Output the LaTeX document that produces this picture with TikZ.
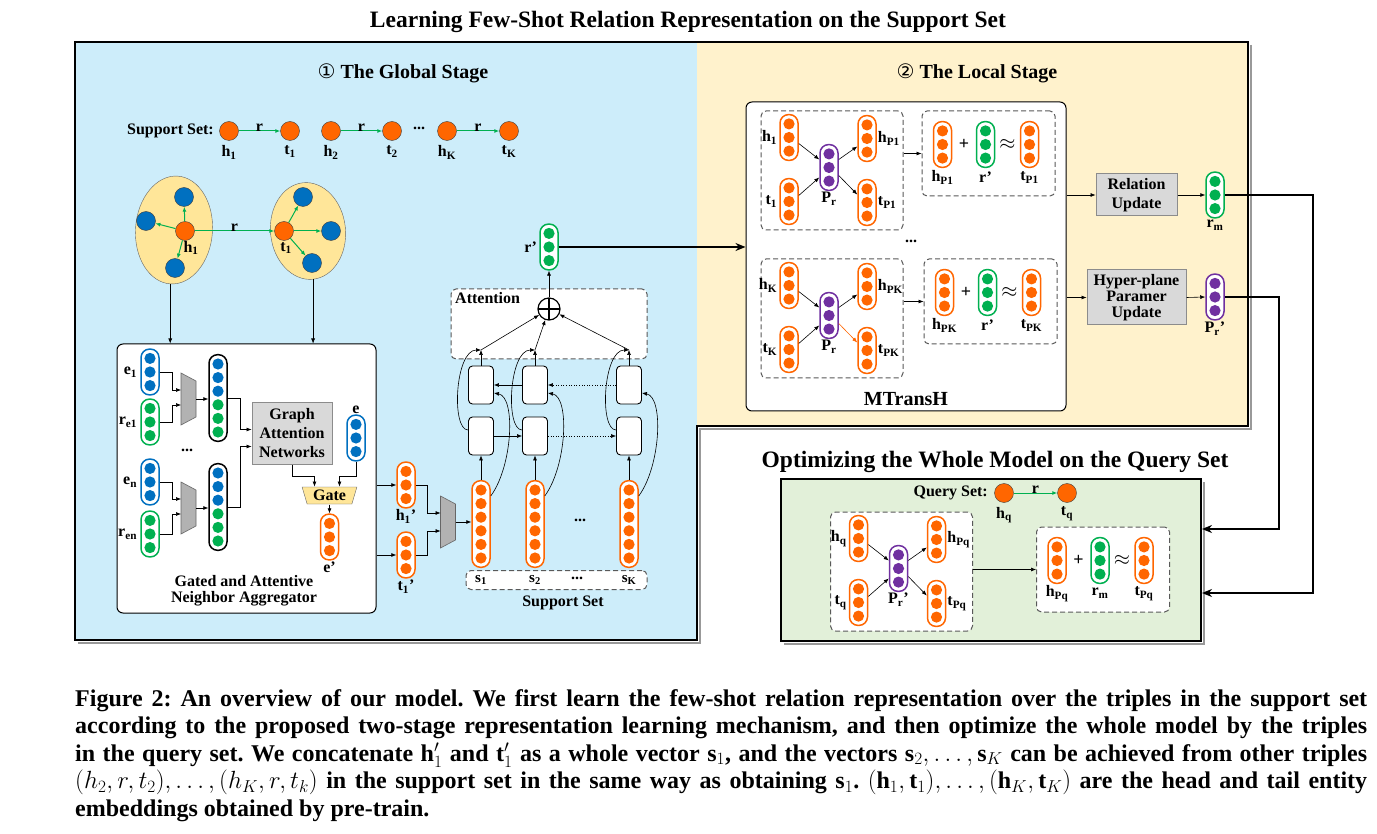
\documentclass[tikz,border=0pt]{standalone}
\usepackage{fontspec}
\setmainfont{Liberation Serif}
\newfontfamily\circfont{DejaVu Sans}
\usetikzlibrary{positioning,shapes.geometric,arrows.meta,calc}

\definecolor{myorange}{RGB}{255,102,0}
\definecolor{myblue}{RGB}{0,112,192}
\definecolor{mygreen}{RGB}{0,176,80}
\definecolor{mypurple}{RGB}{112,48,160}
\definecolor{skyback}{RGB}{205,237,250}
\definecolor{sandback}{RGB}{255,242,204}
\definecolor{leafback}{RGB}{226,240,217}
\definecolor{boxgray}{RGB}{217,217,217}
\definecolor{ellfill}{RGB}{255,230,153}

\newcommand{\fsz}[2]{\fontsize{#1}{#2}\selectfont\bfseries}
\newcommand{\subl}[2]{#1\textsubscript{#2}}

% embedding vector: name, x, y, colour, number of dots
\newcommand{\embvec}[5]{%
  \node[vecbox=#4, minimum height={#5*13.6+5}] (#1) at (#2,#3) {};
  \foreach \k in {1,...,#5}
    \fill[#4] ($(#1.center)+(0,{(\k-(#5+1)/2)*13.6})$) circle (5.6pt);
}
% concatenated entity + relation vector
\newcommand{\catvec}[3]{%
  \node[vecbox=black, minimum height=86.6] (#1) at (#2,#3) {};
  \foreach \k/\c in {1/myblue,2/myblue,3/myblue,4/mygreen,5/mygreen,6/mygreen}
    \fill[\c] ($(#1.center)+(0,{(\k-3.5)*13.6})$) circle (5.6pt);
}
% merging block
\newcommand{\mergeblock}[3]{%
  \coordinate (#1) at (#2,#3);
  \draw[merge] ($(#1)+(-7.5,-26)$) -- ($(#1)+(7.5,-18)$) -- ($(#1)+(7.5,18)$) -- ($(#1)+(-7.5,26)$) -- cycle;
}
% hyper-plane projection: prefix, x, y, h, t, P, hP, tP, colour of last arrow
\newcommand{\projset}[9]{%
  \node[dashbox, minimum width=142, minimum height=119] (#1box) at (#2,#3) {};
  \embvec{#1h}{#2-43}{#3-33}{myorange}{3}
  \embvec{#1t}{#2-43}{#3+31}{myorange}{3}
  \embvec{#1p}{#2-3}{#3-3}{mypurple}{3}
  \embvec{#1hp}{#2+35}{#3-32}{myorange}{3}
  \embvec{#1tp}{#2+35}{#3+32}{myorange}{3}
  \node[lbl, left=1pt of #1h] (#1hl) {#4};
  \node[lbl, left=1pt of #1t] (#1tl) {#5};
  \node[lbl, below=0pt of #1p] (#1pl) {#6};
  \node[lbl, right=0pt of #1hp] (#1hpl) {#7};
  \node[lbl, right=0pt of #1tp] (#1tpl) {#8};
  \draw[arr] ($(#1h.east)+(0,6)$) -- ($(#1p.west)+(0,-8)$);
  \draw[arr] ($(#1t.east)+(0,-6)$) -- ($(#1p.west)+(0,10)$);
  \draw[arr] ($(#1p.east)+(0,-8)$) -- ($(#1hp.west)+(0,8)$);
  \draw[arr, #9] ($(#1p.east)+(0,8)$) -- ($(#1tp.west)+(0,-8)$);
}
% translation check: prefix, x, y, hP, r, tP
\newcommand{\eqset}[6]{%
  \node[dashbox, minimum width=133, minimum height=85] (#1box) at (#2,#3) {};
  \embvec{#1h}{#2-46}{#3-9}{myorange}{3}
  \embvec{#1r}{#2-3}{#3-9}{mygreen}{3}
  \embvec{#1t}{#2+41}{#3-9}{myorange}{3}
  \node[font=\fsz{18}{18}] (#1plus) at (#2-24.5,#3-9) {+};
  \node[font=\fsz{20}{20}] (#1apx) at (#2+19,#3-9) {$\approx$};
  \node[lbl] (#1hl) at (#2-46,#3+24) {#4};
  \node[lbl] (#1rl) at (#2-3,#3+24) {#5};
  \node[lbl] (#1tl) at (#2+41,#3+24) {#6};
}

\begin{document}
\begin{tikzpicture}[x=1pt,y=-1pt,
  vecbox/.style={draw=#1, line width=1.5pt, fill=white, rounded corners=8.5pt, minimum width=18, inner sep=0},
  ent/.style={circle, draw=black!75, fill=myorange, minimum size=19, inner sep=0},
  nbr/.style={circle, draw=black!75, fill=myblue, minimum size=19, inner sep=0},
  lbl/.style={font=\fsz{16}{18}, inner sep=1pt},
  ttl/.style={font=\fsz{23.5}{28}, inner sep=0},
  arr/.style={-{Latex[length=5pt,width=4pt]}, line width=0.6pt},
  bigarr/.style={-{Stealth[length=10pt,width=8pt]}, line width=1.6pt},
  rel/.style={-{Latex[length=5pt,width=4pt]}, draw=mygreen, line width=1pt},
  graybox/.style={draw=black!45, fill=boxgray, line width=1pt, align=center, inner sep=0},
  dashbox/.style={draw=black!65, dash pattern=on 5pt off 3pt, line width=1pt, fill=white, rounded corners=5pt},
  lstm/.style={draw, line width=0.9pt, fill=white, rounded corners=4pt, minimum width=25, minimum height=38},
  merge/.style={draw=black!60, fill=black!30, line width=0.6pt},
  panel/.style={draw, line width=1pt, fill=white, rounded corners=6pt}]
\useasboundingbox (0,0) rectangle (1377,834);
\fill[white] (0,0) rectangle (1377,834);
% stage panels
\fill[skyback] (75,42) rectangle (697,640);
\fill[sandback] (697,42) rectangle (1248,426);
\draw[black!40, line width=2pt] (1251,45) -- (1251,429) -- (700,429) -- (700,643) -- (78,643);
\draw[line width=2pt] (75,42) -- (1248,42) -- (1248,426) -- (697,426) -- (697,640) -- (75,640) -- cycle;
\draw[black!40, line width=2pt] (1204,482) -- (1204,644) -- (784,644);
\node[draw, line width=2pt, fill=leafback, minimum width=420, minimum height=162, inner sep=0] (qpanel) at (991,560) {};

\node[ttl] (maintitle) at (688,22) {Learning Few-Shot Relation Representation on the Support Set};
\node[font=\fsz{20}{22}] (globaltitle) at (403,73) {{\circfont\mdseries ①} The Global Stage};
\node[font=\fsz{20}{22}] (localtitle) at (977,73) {{\circfont\mdseries ②} The Local Stage};
\node[ttl] (querytitle) at (995,462) {Optimizing the Whole Model on the Query Set};

% support set triples
\node[font=\fsz{16}{18}, anchor=east, inner sep=0] (suplabel) at (214,131) {Support Set:};
\foreach \n/\x/\t in {h1/229/\subl{h}{1}, t1/290/\subl{t}{1}, h2/331/\subl{h}{2}, t2/392/\subl{t}{2}, hK/447/\subl{h}{K}, tK/509/\subl{t}{K}}
  \node[ent, label={[lbl, label distance=4pt]below:\t}] (s\n) at (\x,131) {};
\node[lbl] (supdots) at (419,128) {...};
\draw[rel] (sh1) -- node[lbl, above=-2pt] (ra) {r} (st1);
\draw[rel] (sh2) -- node[lbl, above=-2pt] (rb) {r} (st2);
\draw[rel] (shK) -- node[lbl, above=-2pt] (rc) {r} (stK);

% neighbourhoods
\node[ellipse, draw=black!60, fill=ellfill, minimum width=77, minimum height=108, rotate=-4] (hood) at (174,230) {};
\node[ellipse, draw=black!60, fill=ellfill, minimum width=75, minimum height=97, rotate=6] (tood) at (308,231) {};
\node[ent] (hc) at (185,231) {};
\node[nbr] (hn1) at (184,197) {};
\node[nbr] (hn2) at (146,221) {};
\node[nbr] (hn3) at (175,268) {};
\node[ent] (tc) at (284,231) {};
\node[nbr] (tn1) at (303,197) {};
\node[nbr] (tn2) at (331,231) {};
\node[nbr] (tn3) at (312,263) {};
\foreach \n in {hn1,hn2,hn3} \draw[rel] (hc) -- (\n);
\foreach \n in {tn1,tn2,tn3} \draw[rel] (tc) -- (\n);
\draw[rel] (hc) -- node[lbl, above=-2pt] (rh) {r} (tc);
\node[lbl] (hcl) at (191,248) {\subl{h}{1}};
\node[lbl] (tcl) at (286,248) {\subl{t}{1}};

% gated and attentive neighbor aggregator
\node[panel, minimum width=259, minimum height=269] (agg) at (246.5,478.5) {};
\draw[arr] (hood.south) -- (hood.south |- agg.north);
\draw[arr] (tood.south) -- (tood.south |- agg.north);
\embvec{e1}{150}{372}{myblue}{3}
\embvec{re1}{150}{422}{mygreen}{3}
\embvec{en}{150}{482}{myblue}{3}
\embvec{ren}{150}{534}{mygreen}{3}
\node[lbl, left=2pt of e1] (e1l) {\subl{e}{1}};
\node[lbl, left=2pt of re1] (re1l) {\subl{r}{e1}};
\node[lbl, left=2pt of en] (enl) {\subl{e}{n}};
\node[lbl, left=2pt of ren] (renl) {\subl{r}{en}};
\node[lbl] (aggdots) at (187,450) {...};
\mergeblock{m1}{188.5}{399}
\mergeblock{m2}{188.5}{508}
\catvec{cat1}{218}{398}
\catvec{cat2}{218}{507}
\draw[arr] (e1.east) -- ++(13,0) |- ($(m1)+(-7.5,-9)$);
\draw[arr] (re1.east) -- ++(13,0) |- ($(m1)+(-7.5,6)$);
\draw[arr] (en.east) -- ++(13,0) |- ($(m2)+(-7.5,-9)$);
\draw[arr] (ren.east) -- ++(13,0) |- ($(m2)+(-7.5,6)$);
\draw[arr] ($(m1)+(7.5,0)$) -- (cat1.west |- m1);
\draw[arr] ($(m2)+(7.5,0)$) -- (cat2.west |- m2);
\node[graybox, minimum width=80, minimum height=61, font=\fsz{16}{19}] (gan) at (292,433.5) {Graph\\Attention\\Networks};
\draw[arr] (cat1.east) -- ++(13,0) |- ($(gan.west)+(0,-4)$);
\draw[arr] (cat2.east) -- ++(13,0) |- ($(gan.west)+(0,13)$);
\embvec{ev}{356}{438}{myblue}{3}
\node[lbl, above=0pt of ev] (evl) {e};
\node[trapezium, trapezium angle=72, trapezium stretches=true, shape border rotate=180, draw=black!60, fill=ellfill,
  minimum width=55, minimum height=17, inner sep=0.5pt, font=\fsz{16}{16}] (gate) at (329.5,495.5) {Gate};
\draw[arr] (gan.south) -- ++(0,12) -| ($(gate.center)+(-15,-9)$);
\draw[arr] (ev.south) -- ++(0,15) -| ($(gate.center)+(10,-9)$);
\embvec{ep}{329.5}{537}{myorange}{3}
\draw[arr] ($(gate.center)+(0,9)$) -- (ep.north);
\node[lbl, below=0pt of ep] (epl) {e’};
\node[font=\fsz{16}{16}, align=center] (aggtitle) at (244,591) {Gated and Attentive\\Neighbor Aggregator};

% support set encoder
\embvec{hp}{406}{485}{myorange}{3}
\embvec{tp}{406}{555}{myorange}{3}
\node[lbl, below=0pt of hp] (hpl) {\subl{h}{1}’};
\node[lbl, below=0pt of tp] (tpl) {\subl{t}{1}’};
\draw[arr] (agg.east |- hp.west) -- (hp.west);
\draw[arr] (agg.east |- tp.west) -- (tp.west);
\mergeblock{m3}{448}{522}
\draw[arr] (hp.east) -- ++(12,0) |- ($(m3)+(-7.5,-9)$);
\draw[arr] (tp.east) -- ++(12,0) |- ($(m3)+(-7.5,9)$);
\node[dashbox, minimum width=181, minimum height=19] (supbox) at (556.5,580) {};
\node[dashbox, minimum width=196, minimum height=70] (attbox) at (549,324) {};
\node[font=\fsz{16}{16}, anchor=north west, inner sep=0] (attl) at (455,292) {Attention};
\node[circle, draw, line width=1.2pt, fill=white, minimum size=22, inner sep=0,
  path picture={\draw[line width=1.4pt] (path picture bounding box.north) -- (path picture bounding box.south)
  (path picture bounding box.west) -- (path picture bounding box.east);}] (plus) at (549,309) {};
\foreach \c/\x/\t in {1/481/\subl{s}{1}, 2/535/\subl{s}{2}, K/629/\subl{s}{K}} {
  \embvec{sv\c}{\x}{524}{myorange}{6}
  \node[lstm] (lo\c) at (\x,436) {};
  \node[lstm] (up\c) at (\x,385) {};
  \coordinate (ap\c) at (\x,350);
  \node[font=\fsz{15}{15}] (sl\c) at (\x,580) {\t};
  \draw[arr] (sv\c.north) -- (lo\c.south);
  \draw[arr] (up\c.north) -- (ap\c);
  \draw[arr] ($(lo\c.west)+(0,-6)$) .. controls +(-17,0) and +(-26,0) .. (ap\c);
  \draw[arr] ($(sv\c.east)+(0,-28)$) .. controls +(22,-30) and +(22,4) .. ($(up\c.east)+(0,8)$);
  \draw[arr] (ap\c) -- (plus);
}
\draw[arr] ($(m3)+(7.5,0)$) -- (sv1.west |- m3);
\node[lbl] (svdots) at (580,520) {...};
\node[lbl] (sldots) at (577,578) {...};
\node[font=\fsz{16}{16}] (supsetl) at (563,603) {Support Set};
\draw[arr] (lo1.east) -- (lo2.west);
\draw[arr, dotted] (lo2.east) -- (loK.west);
\draw[arr, dotted] (upK.west) -- (up2.east);
\draw[arr] (up2.west) -- (up1.east);
\embvec{rp}{549}{247}{mygreen}{3}
\node[lbl, left=1pt of rp] (rpl) {r’};
\draw[arr] (plus.north) -- (rp.south);

% local stage
\node[panel, minimum width=320, minimum height=309] (mtr) at (906,256.5) {};
\node[font=\fsz{20}{20}] (mtrl) at (906,399) {MTransH};
\draw[bigarr] (rp.east) -- (mtr.west |- rp.east);
\projset{pa}{832}{170.5}{\subl{h}{1}}{\subl{t}{1}}{\subl{P}{r}}{\subl{h}{P1}}{\subl{t}{P1}}{black}
\projset{pb}{832}{318.5}{\subl{h}{K}}{\subl{t}{K}}{\subl{P}{r}}{\subl{h}{PK}}{\subl{t}{PK}}{myorange}
\eqset{qa}{988.5}{153.5}{\subl{h}{P1}}{r’}{\subl{t}{P1}}
\eqset{qb}{990.5}{301.5}{\subl{h}{PK}}{r’}{\subl{t}{PK}}
\draw[arr] (pabox.east |- qabox.west) -- (qabox.west);
\draw[arr] (pbbox.east |- qbbox.west) -- (qbbox.west);
\node[lbl] (mtrdots) at (911,241) {...};
\node[graybox, minimum width=81, minimum height=42, font=\fsz{16}{19}] (relup) at (1136.5,195) {Relation\\Update};
\node[graybox, minimum width=99, minimum height=55, font=\fsz{16}{16}] (hypup) at (1136.5,297.5) {Hyper-plane\\Paramer\\Update};
\embvec{rm}{1215}{195}{mygreen}{3}
\embvec{pr}{1215}{297}{mypurple}{3}
\node[lbl, below=0pt of rm] (rml) {\subl{r}{m}};
\node[lbl, below=0pt of pr] (prl) {\subl{P}{r}’};
\draw[arr] (mtr.east |- relup.west) -- (relup.west);
\draw[arr] (mtr.east |- hypup.west) -- (hypup.west);
\draw[arr] (relup.east) -- (rm.west);
\draw[arr] (hypup.east) -- (pr.west);
\draw[bigarr] (rm.east) -- ++(88,0) |- ($(qpanel.east)+(0,33)$);
\draw[bigarr] (pr.east) -- ++(54,0) |- ($(qpanel.east)+(0,-31)$);

% query set
\node[font=\fsz{16}{18}, anchor=east, inner sep=0] (qlabel) at (988,493) {Query Set:};
\node[ent, label={[lbl, label distance=3pt]below:\subl{h}{q}}] (qh) at (1004,493) {};
\node[ent, label={[lbl, label distance=3pt]below:\subl{t}{q}}] (qt) at (1067,493) {};
\draw[rel] (qh) -- node[lbl, above=-2pt] (rq) {r} (qt);
\projset{pq}{901.5}{571.5}{\subl{h}{q}}{\subl{t}{q}}{\subl{P}{r}’}{\subl{h}{Pq}}{\subl{t}{Pq}}{black}
\eqset{qq}{1103}{569.5}{\subl{h}{Pq}}{\subl{r}{m}}{\subl{t}{Pq}}
\draw[arr] (pqbox.east |- qqbox.west) -- (qqbox.west);

% caption
\node[anchor=north west, text width=1292pt, align=justify, inner sep=0, font=\fsz{24}{27.5}\frenchspacing] (caption) at (75,689) {Figure 2: An overview of our model. We first learn the few-shot relation representation over the triples in the support set\linebreak
according to the proposed two-stage representation learning mechanism, and then optimize the whole model by the triples\linebreak
in the query set. We concatenate $\mathbf{h}'_1$ and $\mathbf{t}'_1$ as a whole vector $\mathbf{s}_1$, and the vectors $\mathbf{s}_2, \ldots, \mathbf{s}_K$ can be achieved from other triples\linebreak
$(h_2, r, t_2), \ldots, (h_K, r, t_k)$ in the support set in the same way as obtaining $\mathbf{s}_1$. $(\mathbf{h}_1, \mathbf{t}_1), \ldots, (\mathbf{h}_K, \mathbf{t}_K)$ are the head and tail entity\linebreak
embeddings obtained by pre-train.};
\end{tikzpicture}
\end{document}
